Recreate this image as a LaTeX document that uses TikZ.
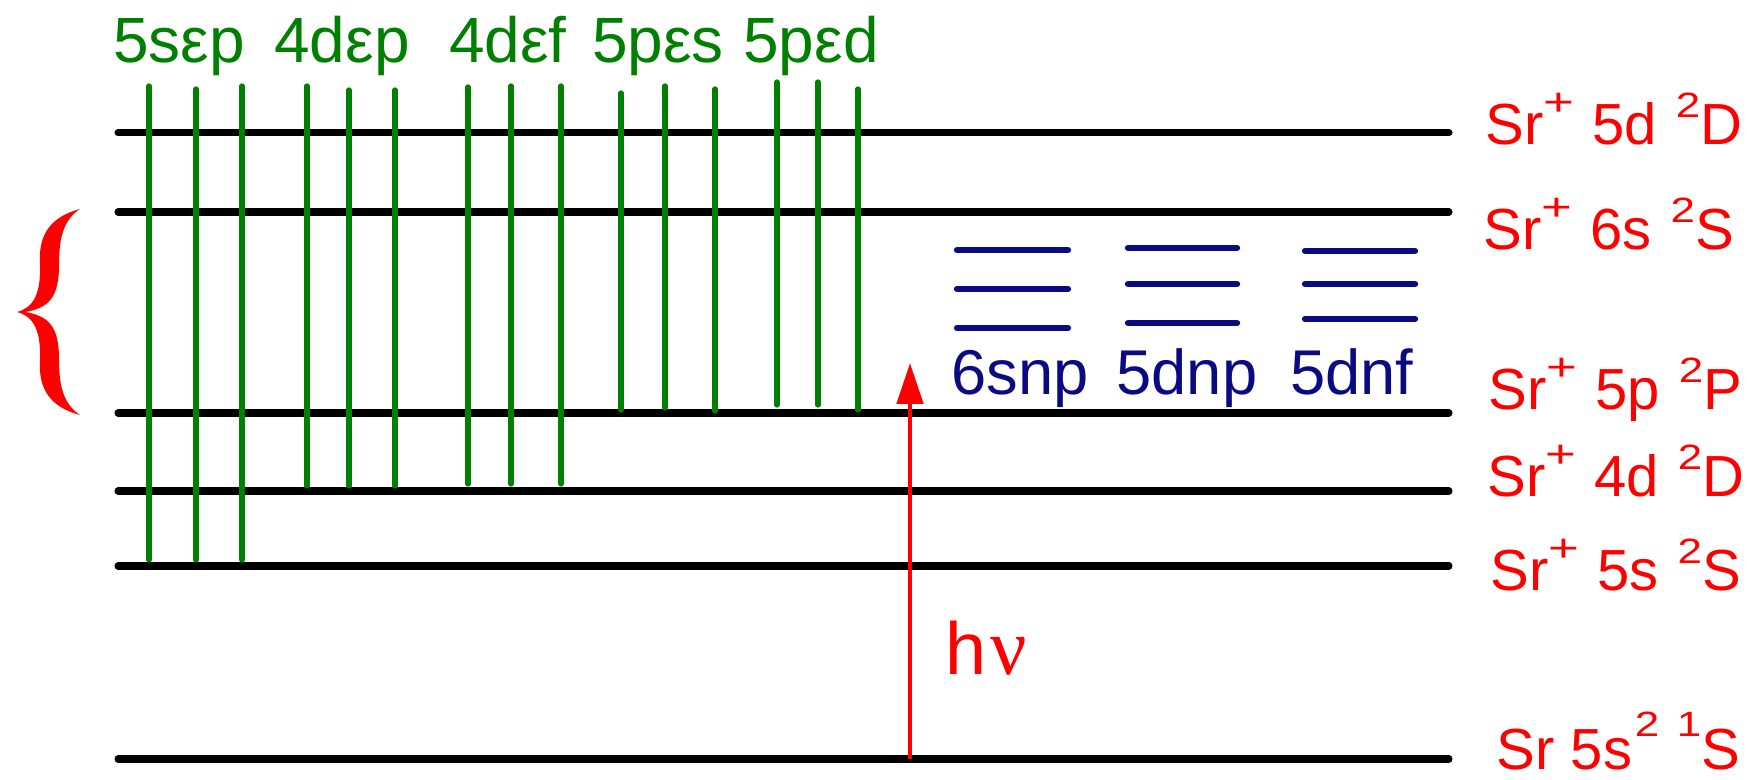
\documentclass[tikz,border=0pt]{standalone}
\usepackage{fontspec}
\setmainfont{Liberation Sans}
\newfontfamily\nufont{Liberation Serif}
\usetikzlibrary{arrows.meta}
\definecolor{lvlgreen}{RGB}{0,128,0}
\definecolor{lvlblue}{RGB}{10,10,130}
\definecolor{lvlred}{RGB}{255,0,0}
\newcommand{\supplus}{\raisebox{8.5pt}{\scalebox{1.5}[1.1]{\fontsize{10}{10}\selectfont +}}}
\newcommand{\supnum}[2][7.7pt]{\raisebox{#1}{\scalebox{1.25}[1]{\fontsize{10}{10}\selectfont #2}}}
\newcommand{\ionlabel}[2]{Sr\supplus\hspace{5pt}#1\hspace{5.5pt}\supnum{2}#2}
\begin{document}
\begin{tikzpicture}[
  level/.style={line width=2pt, line cap=round, black},
  chan/.style={line width=1.5pt, line cap=round, lvlgreen},
  ryd/.style={line width=1.8pt, line cap=round, lvlblue},
  chanlab/.style={text=lvlgreen, font=\fontsize{18.2}{18.2}\selectfont, anchor=base, inner sep=0pt},
  rydlab/.style={text=lvlblue, font=\fontsize{18}{18}\selectfont, anchor=base, inner sep=0pt},
  ionlab/.style={text=lvlred, font=\fontsize{16.5}{16.5}\selectfont, anchor=base west, inner sep=0pt},
  photon/.style={-{Triangle[length=4.1mm,width=2.6mm]}, lvlred, line width=1.4pt},
]
\useasboundingbox (0,0) rectangle (17.58,7.80);

% energy levels
\foreach \n/\y in {dfive/6.47, ssix/5.68, pfive/3.67, dfour/2.89, sfive/2.14, gnd/0.21} {
  \coordinate (\n-l) at (1.18,\y);
  \coordinate (\n-r) at (14.49,\y);
  \draw[level] (\n-l) -- (\n-r);
}

% continuum channels
\foreach \i/\x/\t/\b in {
  a1/1.49/6.94/2.20, a2/1.96/6.91/2.20, a3/2.42/6.94/2.20,
  b1/3.07/6.94/2.94, b2/3.49/6.90/2.94, b3/3.95/6.90/2.94,
  c1/4.68/6.93/2.96, c2/5.11/6.94/2.96, c3/5.61/6.94/2.96,
  d1/6.21/6.87/3.70, d2/6.65/6.94/3.72, d3/7.15/6.91/3.69,
  e1/7.77/6.98/3.75, e2/8.18/6.98/3.75, e3/8.58/6.91/3.70} {
  \coordinate (\i-t) at (\x,\t);
  \coordinate (\i-b) at (\x,\b);
  \draw[chan] (\i-t) -- (\i-b);
}

\node[chanlab] (lab-a) at (1.79,7.17) {5sεp};
\node[chanlab] (lab-b) at (3.42,7.17) {4dεp};
\node[chanlab] (lab-c) at (5.08,7.17) {4dεf};
\node[chanlab] (lab-d) at (6.58,7.17) {5pεs};
\node[chanlab] (lab-e) at (8.11,7.17) {5pεd};

% Rydberg series
\foreach \i/\xa/\xb/\ya/\yb/\yc in {
  r1/9.57/10.68/5.30/4.91/4.52,
  r2/11.28/12.37/5.32/4.96/4.57,
  r3/13.05/14.15/5.29/4.96/4.61} {
  \draw[ryd] (\xa,\ya) coordinate (\i-1l) -- (\xb,\ya) coordinate (\i-1r);
  \draw[ryd] (\xa,\yb) coordinate (\i-2l) -- (\xb,\yb) coordinate (\i-2r);
  \draw[ryd] (\xa,\yc) coordinate (\i-3l) -- (\xb,\yc) coordinate (\i-3r);
}
\node[rydlab] (lab-r1) at (10.20,3.85) {6snp};
\node[rydlab] (lab-r2) at (11.87,3.85) {5dnp};
\node[rydlab] (lab-r3) at (13.52,3.85) {5dnf};

% level labels
\node[ionlab] (ion-d5) at (14.85,6.35) {\ionlabel{5d}{D}};
\node[ionlab] (ion-s6) at (14.83,5.30) {\ionlabel{6s}{S}};
\node[ionlab] (ion-p5) at (14.88,3.70) {\ionlabel{5p}{P}};
\node[ionlab] (ion-d4) at (14.87,2.83) {\ionlabel{4d}{D}};
\node[ionlab] (ion-s5) at (14.90,1.89) {\ionlabel{5s}{S}};
\node[ionlab] (ion-g) at (14.96,0.10) {Sr 5s\kern0.8pt\supnum[9.4pt]{2}\hspace{5pt}\supnum[9.4pt]{1}S};

% photon
\coordinate (hv-b) at (9.10,0.21);
\coordinate (hv-t) at (9.10,4.17);
\draw[photon] (hv-b) -- (hv-t);
\node[anchor=base west, text=lvlred, font=\fontsize{21}{21}\selectfont, inner sep=0pt] (hnu) at (9.45,1.05) {h\kern1pt{\nufont\fontsize{23}{23}\selectfont ν}};

% brace
\fill[lvlred] (0.80,5.71)
  .. controls (0.50,5.63) and (0.38,5.45) .. (0.40,5.15)
  .. controls (0.41,4.86) and (0.33,4.72) .. (0.17,4.68)
  .. controls (0.33,4.64) and (0.41,4.50) .. (0.40,4.21)
  .. controls (0.38,3.91) and (0.50,3.73) .. (0.80,3.65)
  .. controls (0.63,3.76) and (0.59,3.95) .. (0.59,4.21)
  .. controls (0.59,4.52) and (0.50,4.64) .. (0.25,4.68)
  .. controls (0.50,4.72) and (0.59,4.84) .. (0.59,5.15)
  .. controls (0.59,5.41) and (0.63,5.60) .. (0.80,5.71) -- cycle;
\end{tikzpicture}
\end{document}
